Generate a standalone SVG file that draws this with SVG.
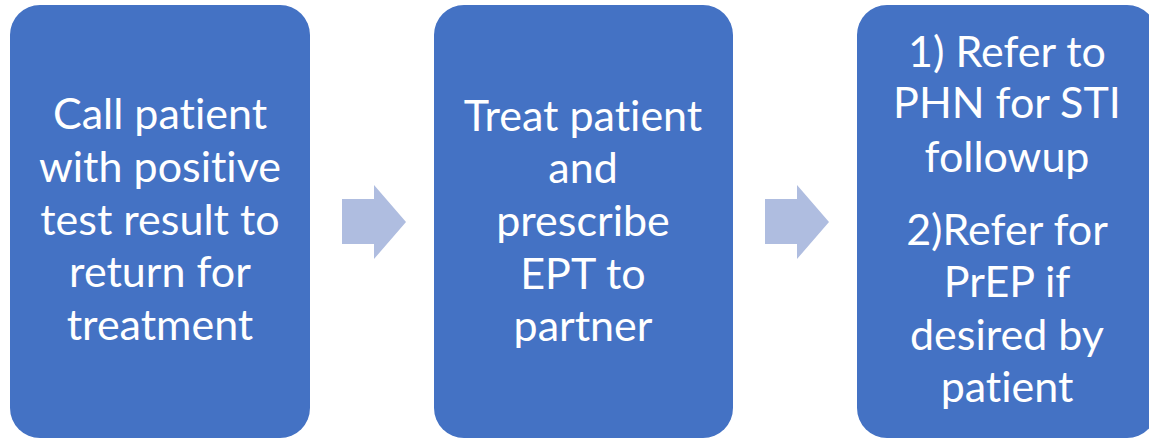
<svg xmlns="http://www.w3.org/2000/svg" width="1149" height="439" viewBox="0 0 1149 439">
<style>
.box{fill:#4472C4}
.arrow{fill:#AFBDE0}
.t{font-family:Lato,"Open Sans","Liberation Sans",sans-serif;font-size:43px;fill:#FFFFFF;text-anchor:middle;font-variant-ligatures:none;font-feature-settings:"liga" 0}
</style>
<rect width="1149" height="439" fill="#FFFFFF"/>
<g id="connectors">
<polygon class="arrow" points="342,199 374,199 374,185 406,222 374,259 374,244 342,244"/>
<polygon class="arrow" points="765,199 797,199 797,185 829,222 797,259 797,244 765,244"/>
</g>
<g id="node1">
<rect class="box" x="10" y="5" width="300" height="433" rx="30"/>
<text class="t"><tspan x="160" y="129">Call patient</tspan><tspan x="160" y="182">with positive</tspan><tspan x="160" y="235">test result to</tspan><tspan x="160" y="287">return for</tspan><tspan x="160" y="340">treatment</tspan></text>
</g>
<g id="node2">
<rect class="box" x="434" y="5" width="299" height="433" rx="30"/>
<text class="t"><tspan x="583" y="131">Treat patient</tspan><tspan x="583" y="183">and</tspan><tspan x="583" y="236">prescribe</tspan><tspan x="583" y="289">EPT to</tspan><tspan x="583" y="341">partner</tspan></text>
</g>
<g id="node3">
<rect class="box" x="857" y="5" width="300" height="433" rx="30"/>
<text class="t"><tspan x="1007" y="67">1) Refer to</tspan><tspan x="1007" y="118">PHN for STI</tspan><tspan x="1007" y="172">followup</tspan><tspan x="1007" y="245">2)Refer for</tspan><tspan x="1007" y="297">PrEP if</tspan><tspan x="1007" y="350">desired by</tspan><tspan x="1007" y="402">patient</tspan></text>
</g>
</svg>
